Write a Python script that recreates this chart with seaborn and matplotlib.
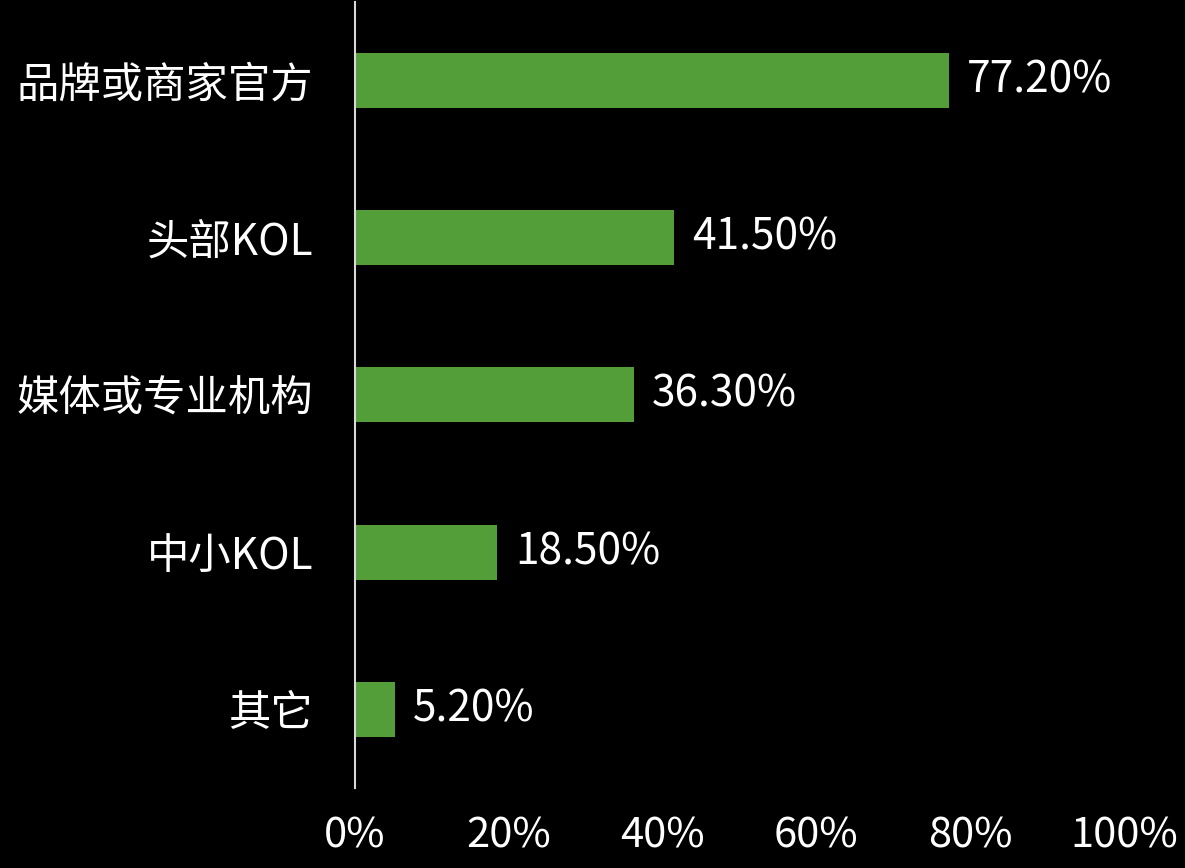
import matplotlib
matplotlib.use("Agg")
import matplotlib.pyplot as plt
import seaborn as sns
import pandas as pd

categories = ["品牌或商家官方", "头部KOL", "媒体或专业机构", "中小KOL", "其它"]
values = [77.2, 41.5, 36.3, 18.5, 5.2]
xticks = [0, 20, 40, 60, 80, 100]
xtick_labels = ["0%", "20%", "40%", "60%", "80%", "100%"]

df = pd.DataFrame({"category": categories, "value": values})

sns.set_theme(style="white")
plt.rcParams["font.family"] = ["Noto Sans CJK SC", "DejaVu Sans"]

fig = plt.figure(figsize=(11.85, 8.68), dpi=100, facecolor="black")
ax = fig.add_axes([0.2996, 0.0922, 0.6489, 0.9055])
ax.set_facecolor("black")

sns.barplot(data=df, x="value", y="category", orient="h", color="#549E3A",
            saturation=1, width=0.35, linewidth=0, edgecolor="none", ax=ax)

for i, v in enumerate(values):
    ax.annotate(f"{v:.2f}%", xy=(v, i), xytext=(13, 0), textcoords="offset points",
                va="center", ha="left", color="white", fontsize=30.5)

ax.set_xlim(0, 100)
ax.set_ylim(4.5, -0.5)
ax.set_xticks(xticks)
ax.set_xticklabels(xtick_labels)
ax.set_xlabel("")
ax.set_ylabel("")
ax.tick_params(axis="x", colors="white", labelsize=30, length=0, pad=20)
ax.tick_params(axis="y", colors="white", labelsize=30.5, length=0, pad=30)

for s in ["top", "right", "bottom"]:
    ax.spines[s].set_visible(False)
ax.spines["left"].set_color("#d9d9d9")
ax.spines["left"].set_linewidth(1.5)

fig.savefig("out.png", dpi=100, facecolor="black")
